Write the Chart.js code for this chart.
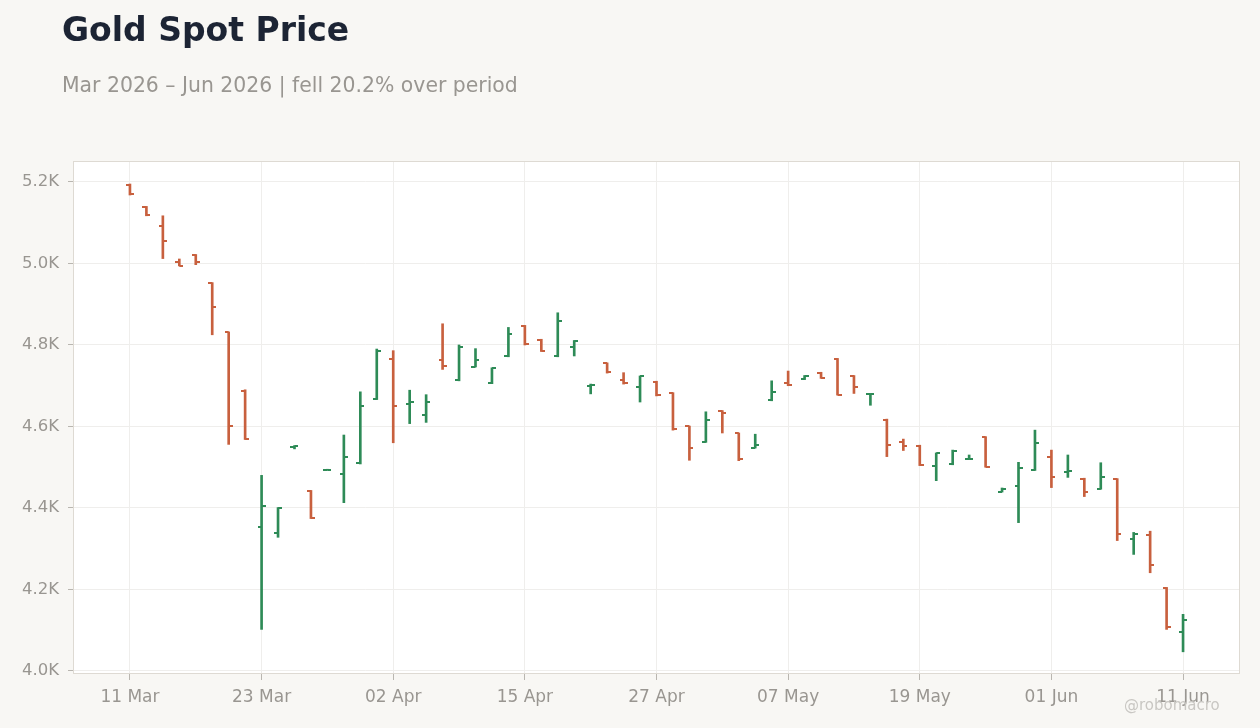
<!DOCTYPE html>
<html>
<head>
<meta charset="utf-8">
<script src="https://cdn.jsdelivr.net/npm/chart.js@4"></script>
<style>
  html, body { margin: 0; padding: 0; background: #f8f7f4; }
  body { width: 1260px; height: 728px; position: relative; overflow: hidden; font-family: 'DejaVu Sans', sans-serif; }
  #title { position: absolute; left: 62px; top: 10px; font-size: 33px; font-weight: bold; color: #1c2434; white-space: nowrap; }
  #subtitle { position: absolute; left: 62px; top: 73px; font-size: 20.4px; color: #999691; white-space: nowrap; }
  #mark { position: absolute; left: 1124px; top: 696px; font-size: 15px; color: #c9c7c3; white-space: nowrap; }
  #gold { position: absolute; left: 0; top: 0; }
</style>
</head>
<body>
<canvas id="gold" width="1260" height="728"></canvas>
<div id="title">Gold Spot Price</div>
<div id="subtitle">Mar 2026 – Jun 2026 | fell 20.2% over period</div>
<div id="mark">@robomacro</div>
<script>
// trading days (Good Friday and Memorial Day closed)
const DATES = [
    '11 Mar', '12 Mar', '13 Mar', '16 Mar', '17 Mar', '18 Mar', '19 Mar', '20 Mar',
    '23 Mar', '24 Mar', '25 Mar', '26 Mar', '27 Mar', '30 Mar', '31 Mar', '01 Apr',
    '02 Apr', '06 Apr', '07 Apr', '08 Apr', '09 Apr', '10 Apr', '13 Apr', '14 Apr',
    '15 Apr', '16 Apr', '17 Apr', '20 Apr', '21 Apr', '22 Apr', '23 Apr', '24 Apr',
    '27 Apr', '28 Apr', '29 Apr', '30 Apr', '01 May', '04 May', '05 May', '06 May',
    '07 May', '08 May', '11 May', '12 May', '13 May', '14 May', '15 May', '18 May',
    '19 May', '20 May', '21 May', '22 May', '26 May', '27 May', '28 May', '29 May',
    '01 Jun', '02 Jun', '03 Jun', '04 Jun', '05 Jun', '08 Jun', '09 Jun', '10 Jun',
    '11 Jun'
];

const OPEN = [
    5193, 5138, 5092, 5003, 5020, 4952, 4831, 4688,
    4354, 4339, 4550, 4442, 4494, 4484, 4511, 4668,
    4766, 4656, 4627, 4762, 4713, 4747, 4706, 4772,
    4847, 4812, 4772, 4794, 4699, 4755, 4713, 4696,
    4709, 4682, 4600, 4562, 4638, 4583, 4548, 4664,
    4706, 4716, 4731, 4766, 4724, 4679, 4617, 4563,
    4553, 4504, 4509, 4520, 4574, 4440, 4455, 4493,
    4524, 4488, 4472, 4447, 4471, 4324, 4334, 4203,
    4096
];
const HIGH = [
    5195, 5140, 5117, 5011, 5022, 4953, 4832, 4690,
    4480, 4401, 4553, 4443, 4495, 4579, 4685, 4790,
    4786, 4689, 4678, 4852, 4800, 4791, 4744, 4843,
    4848, 4814, 4879, 4811, 4704, 4756, 4732, 4724,
    4711, 4683, 4601, 4636, 4639, 4584, 4581, 4712,
    4736, 4725, 4733, 4767, 4725, 4681, 4618, 4569,
    4554, 4535, 4542, 4530, 4575, 4449, 4512, 4591,
    4542, 4530, 4473, 4511, 4472, 4340, 4343, 4205,
    4139
];
const LOW = [
    5168, 5117, 5012, 4994, 4997, 4825, 4556, 4568,
    4102, 4328, 4545, 4374, 4493, 4413, 4508, 4666,
    4560, 4607, 4610, 4740, 4712, 4746, 4705, 4771,
    4800, 4784, 4771, 4773, 4680, 4731, 4704, 4660,
    4675, 4591, 4517, 4561, 4584, 4516, 4547, 4663,
    4700, 4715, 4718, 4677, 4681, 4652, 4526, 4541,
    4504, 4467, 4506, 4519, 4500, 4439, 4364, 4492,
    4450, 4475, 4428, 4446, 4320, 4286, 4241, 4102,
    4047
];
const CLOSE = [
    5170, 5119, 5055, 4995, 5003, 4893, 4602, 4570,
    4406, 4401, 4551, 4376, 4494, 4526, 4649, 4784,
    4651, 4659, 4659, 4749, 4794, 4762, 4743, 4826,
    4802, 4786, 4858, 4810, 4701, 4733, 4706, 4723,
    4676, 4593, 4546, 4615, 4632, 4521, 4555, 4684,
    4701, 4724, 4720, 4678, 4698, 4680, 4555, 4553,
    4506, 4534, 4541, 4521, 4501, 4447, 4499, 4560,
    4477, 4490, 4438, 4477, 4337, 4337, 4261, 4108,
    4125
];

const Y_TICKS = [4000, 4200, 4400, 4600, 4800, 5000, 5200];
const X_TICKS = [0, 8, 16, 24, 32, 40, 48, 56, 64];

const UP   = '#2e8b57';
const DOWN = '#c8603e';
const GRID = '#efeeec';
const TEXT = '#999691';

const is_up = i => CLOSE[i] >= OPEN[i];

// little half-dash used as the open (left) / close (right) tick
function make_tick(color, left) {
    const c = document.createElement('canvas');
    c.width = 8;
    c.height = 2;
    const g = c.getContext('2d');
    g.fillStyle = color;
    g.fillRect(left ? 0 : 4, 0, 4, 2);
    return c;
}
const TICKS = {
    open:  { up: make_tick(UP, true),  down: make_tick(DOWN, true) },
    close: { up: make_tick(UP, false), down: make_tick(DOWN, false) }
};

const frame = {
    id: 'frame',
    beforeDraw(chart) {
        const { ctx, chartArea: a } = chart;
        ctx.save();
        ctx.fillStyle = '#ffffff';
        ctx.fillRect(a.left, a.top, a.right - a.left, a.bottom - a.top);
        ctx.restore();
    },
    afterDraw(chart) {
        const { ctx, chartArea: a } = chart;
        ctx.save();
        ctx.strokeStyle = '#dedad3';
        ctx.lineWidth = 1;
        ctx.strokeRect(a.left - 0.5, a.top - 0.5, a.right - a.left + 1, a.bottom - a.top + 1);
        ctx.restore();
    }
};

window.onload = () => {
    Chart.defaults.font.family = "'DejaVu Sans', sans-serif";
    Chart.defaults.color = TEXT;

    const idx = DATES.map((d, i) => i);

    new Chart(document.getElementById('gold'), {
        type: 'bar',
        data: {
            datasets: [
                {
                    type: 'bar',
                    data: idx.map(i => ({ x: i, y: [LOW[i], HIGH[i]] })),
                    backgroundColor: c => is_up(c.dataIndex) ? UP : DOWN,
                    barThickness: 2,
                    borderWidth: 0
                },
                {
                    type: 'scatter',
                    data: idx.map(i => ({ x: i, y: OPEN[i] })),
                    pointStyle: c => TICKS.open[is_up(c.dataIndex) ? 'up' : 'down'],
                    pointRadius: 3
                },
                {
                    type: 'scatter',
                    data: idx.map(i => ({ x: i, y: CLOSE[i] })),
                    pointStyle: c => TICKS.close[is_up(c.dataIndex) ? 'up' : 'down'],
                    pointRadius: 3
                }
            ]
        },
        options: {
            responsive: false,
            animation: false,
            layout: { padding: { top: 162, right: 21, bottom: 0, left: 0 } },
            plugins: { legend: { display: false }, tooltip: { enabled: false } },
            scales: {
                x: {
                    type: 'linear',
                    offset: false,
                    min: -3.4,
                    max: 67.4,
                    afterBuildTicks: s => { s.ticks = X_TICKS.map(v => ({ value: v })); },
                    afterFit: s => { s.height = 55; },
                    ticks: {
                        callback: v => DATES[v],
                        font: { size: 17 },
                        color: TEXT,
                        padding: 7,
                        maxRotation: 0
                    },
                    grid: { offset: false, color: GRID, tickColor: '#b9b6b0', tickLength: 7 },
                    border: { display: false }
                },
                y: {
                    min: 3995,
                    max: 5249,
                    afterBuildTicks: s => { s.ticks = Y_TICKS.map(v => ({ value: v })); },
                    afterFit: s => { s.width = 74; },
                    ticks: {
                        callback: v => (v / 1000).toFixed(1) + 'K',
                        font: { size: 16.5 },
                        color: TEXT,
                        padding: 9
                    },
                    grid: { color: GRID, tickColor: '#b9b6b0', tickLength: 6 },
                    border: { display: false }
                }
            }
        },
        plugins: [frame]
    });
};
</script>
</body>
</html>
